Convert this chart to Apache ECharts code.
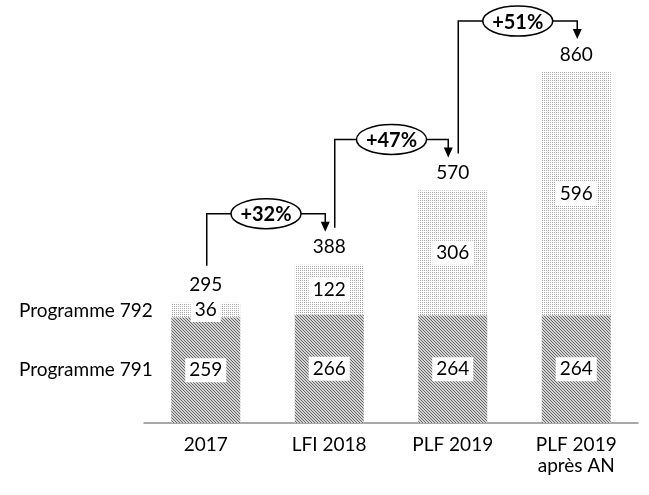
<!DOCTYPE html>
<html>
<head>
<meta charset="utf-8">
<script src="https://cdn.jsdelivr.net/npm/echarts@6/dist/echarts.min.js"></script>
<style>
html,body{margin:0;padding:0;background:#fff;}
#chart{width:649px;height:495px;}
</style>
</head>
<body>
<div id="chart"></div>
<script>
const categories = ['2017', 'LFI 2018', 'PLF 2019', 'PLF 2019\naprès AN'];
const prog791 = [259, 266, 264, 264];
const prog792 = [36, 122, 306, 596];
const totals = [295, 388, 570, 860];
const growthLabels = ['+32%', '+47%', '+51%'];
const seriesNames = ['Programme 791', 'Programme 792'];

const FONT = 'Lato, "Open Sans", sans-serif';
const FS = 19;

function makeHatch() {
  const c = document.createElement('canvas');
  c.width = 6; c.height = 6;
  const ctx = c.getContext('2d');
  ctx.fillStyle = '#d2d2d2';
  ctx.fillRect(0, 0, 6, 6);
  ctx.fillStyle = '#6a6a6a';
  for (let y = 0; y < 6; y++) for (let x = 0; x < 6; x++) {
    if (((x - y) % 3 + 3) % 3 === 0) ctx.fillRect(x, y, 1, 1);
  }
  return c;
}
function makeDots() {
  const c = document.createElement('canvas');
  c.width = 4; c.height = 4;
  const ctx = c.getContext('2d');
  ctx.fillStyle = '#ffffff';
  ctx.fillRect(0, 0, 4, 4);
  ctx.fillStyle = '#a6a6a6';
  for (let y = 0; y < 4; y += 2) for (let x = 0; x < 4; x += 2) ctx.fillRect(x, y, 1, 1);
  return c;
}

const chart = echarts.init(document.getElementById('chart'), null, {renderer: 'canvas'});
const innerLabel = {
  show: true, position: 'inside', color: '#000', fontSize: FS, fontFamily: FONT,
  backgroundColor: '#fff', padding: [3, 4, 2, 4], lineHeight: 19
};
chart.setOption({
  animation: false,
  grid: {left: 144, right: 11, top: 15, bottom: 72},
  xAxis: {
    type: 'category', data: categories,
    axisLine: {lineStyle: {color: '#8c8c8c', width: 1.5}},
    axisTick: {show: false},
    axisLabel: {color: '#000', fontSize: FS, fontFamily: FONT, margin: 11, lineHeight: 21}
  },
  yAxis: {type: 'value', min: 0, max: 1000, show: false, splitLine: {show: false}},
  series: [
    {name: seriesNames[0], type: 'bar', stack: 's', barWidth: 69, data: prog791,
     itemStyle: {color: {image: makeHatch(), repeat: 'repeat'}}, label: innerLabel},
    {name: seriesNames[1], type: 'bar', stack: 's', barWidth: 69, data: prog792,
     itemStyle: {color: {image: makeDots(), repeat: 'repeat'}}, label: innerLabel},
    {name: 'total', type: 'bar', barWidth: 69, barGap: '-100%', data: totals, silent: true,
     itemStyle: {color: 'rgba(0,0,0,0)'}, z: 1,
     label: {show: true, position: 'top', distance: 8, color: '#000', fontSize: FS, fontFamily: FONT}}
  ]
});

function px(i, v) { return chart.convertToPixel({gridIndex: 0}, [i, v]); }

const g = [];
const p0 = px(0, 0), p1 = px(0, prog791[0]), p2 = px(0, totals[0]);
const leftX = p0[0] - 206 + 153;
g.push({type: 'text', style: {text: seriesNames[1], x: leftX, y: (p1[1] + p2[1]) / 2 + 1, align: 'right', verticalAlign: 'middle', fontSize: FS, fontFamily: FONT, fill: '#000'}});
g.push({type: 'text', style: {text: seriesNames[0], x: leftX, y: (p0[1] + p1[1]) / 2, align: 'right', verticalAlign: 'middle', fontSize: FS, fontFamily: FONT, fill: '#000'}});

const startOff = [1, 5.5, 5.5];
const endOff = [-4, -4.5, 1];
for (let i = 0; i < growthLabels.length; i++) {
  const a = px(i, totals[i]);
  const b = px(i + 1, totals[i + 1]);
  const sx = a[0] + startOff[i];
  const ex = b[0] + endOff[i];
  const sy = a[1] - 37;
  const hy = b[1] - 51;
  const tip = b[1] - 33;
  g.push({type: 'polyline', shape: {points: [[sx, sy], [sx, hy], [ex, hy], [ex, tip - 8]]},
          style: {stroke: '#000', lineWidth: 1.5, fill: null}, z: 10});
  g.push({type: 'polygon', shape: {points: [[ex - 4.5, tip - 10], [ex + 4.5, tip - 10], [ex, tip]]},
          style: {fill: '#000'}, z: 10});
  const mx = (sx + ex) / 2;
  g.push({type: 'ellipse', shape: {cx: mx, cy: hy, rx: 35, ry: 15},
          style: {fill: '#fff', stroke: '#000', lineWidth: 1.5}, z: 11});
  g.push({type: 'text', style: {text: growthLabels[i], x: mx, y: hy + 1, align: 'center', verticalAlign: 'middle',
          fontSize: 20, fontWeight: 'bold', fontFamily: FONT, fill: '#000'}, z: 12});
}
chart.setOption({graphic: g});
</script>
</body>
</html>
